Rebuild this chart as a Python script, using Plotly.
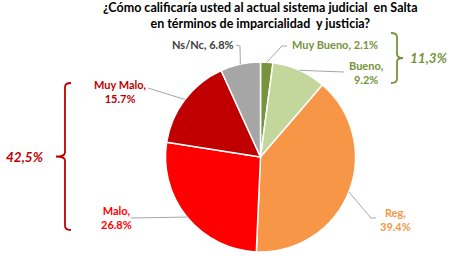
import plotly.graph_objects as go
import math

W, H = 455, 268

# ---- data ----
categories = ["Muy Bueno", "Bueno", "Reg", "Malo", "Muy Malo", "Ns/Nc"]
values = [2.1, 9.2, 39.4, 26.8, 15.7, 6.8]
colors = ["#77933C", "#C3D69B", "#F79646", "#FF0000", "#C00000", "#A6A6A6"]
label_colors = ["#77933C", "#77933C", "#F79646", "#FF0000", "#C00000", "#404040"]
title_lines = ["¿Cómo calificaría usted al actual sistema judicial  en Salta",
               "en términos de imparcialidad  y justicia?"]
good_group = ["Muy Bueno", "Bueno"]
bad_group = ["Malo", "Muy Malo"]

# ---- layout (pixels) ----
CX, CY, R = 260.5, 157, 95
two_line = [False, True, True, True, True, False]
label_pos = [(335, 44), (366, 73), (395, 219), (117, 217), (120, 91), (203, 44)]
leader_mid = [(282, 46), None, (371, 218), None, None, (240, 46)]
leader_end = [(287, 46), (344, 72), (376, 218), (131, 218), (148, 88), (236, 45)]
FONT = "Lato"


def px(x):
    return x / W


def py(y):
    return 1 - y / H


fig = go.Figure(go.Pie(
    labels=categories, values=values, sort=False, direction="clockwise",
    rotation=0, textinfo="none", hoverinfo="label+percent",
    marker=dict(colors=colors, line=dict(color="white", width=1.5)),
    domain=dict(x=[px(CX - R), px(CX + R)], y=[py(CY + R), py(CY - R)]),
    showlegend=False,
))

annotations = []
shapes = []
total = sum(values)
cum = 0.0
for i, (cat, v) in enumerate(zip(categories, values)):
    mid = (cum + v / 2) / total
    cum += v
    th = 2 * math.pi * mid
    ex, ey = CX + R * math.sin(th), CY - R * math.cos(th)
    pts = [(ex, ey)]
    if leader_mid[i]:
        pts.append(leader_mid[i])
    pts.append(leader_end[i])
    path = "M " + " L ".join(f"{px(a):.5f},{py(b):.5f}" for a, b in pts)
    shapes.append(dict(type="path", xref="paper", yref="paper", path=path,
                       line=dict(color="#A6A6A6", width=1)))
    sep = "<br>" if two_line[i] else " "
    txt = f"<b>{cat},{sep}{v:.1f}%</b>"
    annotations.append(dict(text=txt, x=px(label_pos[i][0]), y=py(label_pos[i][1]),
                            xref="paper", yref="paper", showarrow=False,
                            xanchor="center", yanchor="middle", align="center",
                            font=dict(family=FONT, size=11, color=label_colors[i])))

# title
annotations.append(dict(text="<b>" + "<br>".join(title_lines) + "</b>",
                        x=px(260), y=py(16), xref="paper", yref="paper",
                        showarrow=False, xanchor="center", yanchor="middle",
                        align="center",
                        font=dict(family=FONT, size=12.5, color="#000000")))


def brace(x, y0, y1, tip, d):
    # d: direction of hooks (+1 hooks to right), tip goes opposite
    ym = (y0 + y1) / 2
    c = 4
    pts = (f"M {px(x + d*6):.5f},{py(y0):.5f} "
           f"Q {px(x):.5f},{py(y0):.5f} {px(x):.5f},{py(y0 + c):.5f} "
           f"L {px(x):.5f},{py(ym - c):.5f} "
           f"Q {px(x):.5f},{py(ym):.5f} {px(x - d*tip):.5f},{py(ym):.5f} "
           f"Q {px(x):.5f},{py(ym):.5f} {px(x):.5f},{py(ym + c):.5f} "
           f"L {px(x):.5f},{py(y1 - c):.5f} "
           f"Q {px(x):.5f},{py(y1):.5f} {px(x + d*6):.5f},{py(y1):.5f}")
    return pts


bad_total = sum(v for c, v in zip(categories, values) if c in bad_group)
good_total = sum(v for c, v in zip(categories, values) if c in good_group)

shapes.append(dict(type="path", xref="paper", yref="paper",
                   path=brace(65, 83, 230, 9, 1), line=dict(color="#C00000", width=1.8)))
shapes.append(dict(type="path", xref="paper", yref="paper",
                   path=brace(397, 33, 83, 6, -1), line=dict(color="#77933C", width=1.8)))

annotations.append(dict(text=f"<b><i>{bad_total:.1f}%</i></b>".replace(".", ","),
                        x=px(25), y=py(157), xref="paper", yref="paper", showarrow=False,
                        xanchor="center", yanchor="middle",
                        font=dict(family=FONT, size=13.5, color="#C00000")))
annotations.append(dict(text=f"<b><i>{good_total:.1f}%</i></b>".replace(".", ","),
                        x=px(429), y=py(58), xref="paper", yref="paper", showarrow=False,
                        xanchor="center", yanchor="middle",
                        font=dict(family=FONT, size=13.5, color="#77933C")))

fig.update_layout(width=W, height=H, margin=dict(l=0, r=0, t=0, b=0),
                  paper_bgcolor="white", plot_bgcolor="white",
                  annotations=annotations, shapes=shapes)

fig.write_html("out.html")
